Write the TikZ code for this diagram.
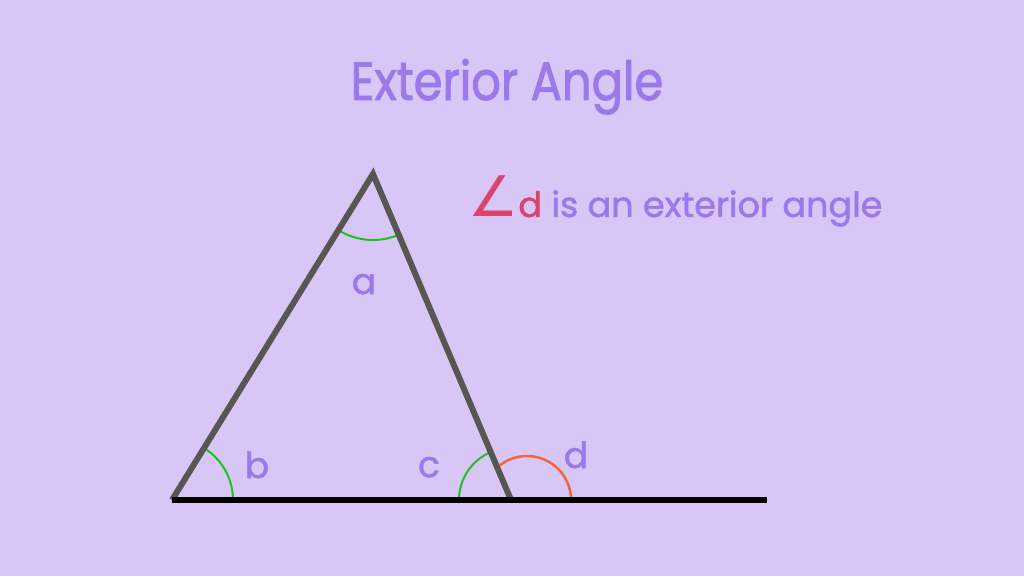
\documentclass[tikz,border=0pt]{standalone}
\usepackage{fontspec}
\setmainfont{Poppins}[FakeBold=1.4]
\newfontfamily\titlefont{Poppins}[FakeBold=1.6, FakeStretch=0.86]
\newfontfamily\anglefont{DejaVu Sans}
\definecolor{bgpurple}{HTML}{D8C6F7}
\definecolor{txtpurple}{HTML}{9C78EA}
\definecolor{angred}{HTML}{DA456F}
\definecolor{sidegray}{HTML}{575752}
\definecolor{arcgreen}{HTML}{1DC21D}
\definecolor{arcorange}{HTML}{F0673A}

\begin{document}
\begin{tikzpicture}[x=1pt, y=1pt,
    side/.style = {line width=6pt, draw=sidegray, line join=miter},
    base/.style = {line width=6pt, draw=black},
    inarc/.style = {line width=2pt, draw=arcgreen},
    exarc/.style = {line width=2.5pt, draw=arcorange},
    lbl/.style = {
      text = txtpurple,
      anchor = base,
      inner sep = 0pt,
      font = \fontsize{36}{40}\selectfont
    }
  ]
  \path[fill=bgpurple] (0,0) rectangle (1024,576);

  \node[anchor=base, inner sep=0pt, text=txtpurple,
    font=\titlefont\fontsize{54}{60}\selectfont] (title) at (507,476) {Exterior Angle};
  \node[anchor=base west, inner sep=0pt, text=txtpurple,
    font=\fontsize{35}{40}\selectfont] (note) at (468,359)
    {\textcolor{angred}{{\anglefont\fontsize{56}{60}\selectfont ∠}d} is an exterior angle};

  \coordinate (A) at (373,402);
  \coordinate (B) at (172,76);
  \coordinate (C) at (511,76);
  \coordinate (E) at (767,76);
  \coordinate (D) at (527,76);

  % angle marks
  \draw[inarc] ([shift={(238:66)}]A) arc[start angle=238, end angle=293, radius=66];
  \draw[inarc] ([shift={(0:61)}]B) arc[start angle=0, end angle=58, radius=61];
  \draw[inarc] ([shift={(113:52)}]C) arc[start angle=113, end angle=180, radius=52];
  \draw[exarc] ([shift={(0:44)}]D) arc[start angle=0, end angle=128, radius=44];

  \draw[side] (B) -- (A) -- (C);
  \draw[base] (B) -- (E);

  \node[lbl] (la) at (364,282) {a};
  \node[lbl] (lb) at (257,98) {b};
  \node[lbl] (lc) at (429,99) {c};
  \node[lbl] (ld) at (576,108) {d};
\end{tikzpicture}
\end{document}
